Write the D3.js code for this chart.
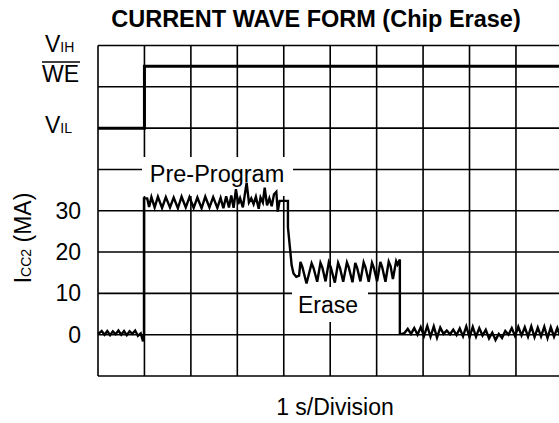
<!DOCTYPE html>
<html>
<head>
<meta charset="utf-8">
<script src="https://cdn.jsdelivr.net/npm/d3@7"></script>
<style>
  html, body { margin: 0; padding: 0; background: #fff; }
  svg { display: block; }
  text { font-family: "Liberation Sans", Arial, Helvetica, sans-serif; fill: #000; }
</style>
</head>
<body>
<svg id="chart" width="559" height="423"></svg>
<script>
// ---------------- DATA ----------------
const title = "CURRENT WAVE FORM (Chip Erase)";
const xAxisLabel = "1 s/Division";
const yTicks = [0, 10, 20, 30];
const gridTimes = [0, 1, 2, 3, 4, 5, 6, 7, 8, 9, 10];          // seconds
const gridRows = [-10, 0, 10, 20, 30, 40, 50, 60, 70];          // current-scale rows

// WE control signal (0 = VIL, 1 = VIH)
const weTimes  = [0, 1.0, 1.0, 10];
const weLevels = [0, 0, 1, 1];

// ICC2 current waveform (time in s, current in mA)
const currentTimes = [
  0.00, 0.02, 0.08, 0.14, 0.20, 0.26, 0.32, 0.38, 0.44, 0.50, 0.56, 0.62, 0.68, 0.74, 0.80, 0.86, 0.92, 0.97, 0.99,
  0.99, 1.06, 1.10, 1.15, 1.22, 1.29, 1.38, 1.46, 1.55, 1.63, 1.72, 1.80, 1.89, 1.97, 2.06, 2.14, 2.23, 2.31, 2.40,
  2.48, 2.57, 2.64, 2.70, 2.76, 2.82, 2.87, 2.92, 2.97, 3.02, 3.06, 3.12, 3.20, 3.25, 3.30, 3.35, 3.40, 3.46, 3.50,
  3.55, 3.59, 3.64, 3.69, 3.74, 3.79, 3.84, 3.87, 3.91, 4.09,
  4.09, 4.17, 4.21, 4.27, 4.33, 4.36, 4.40, 4.49, 4.60, 4.64, 4.72, 4.79, 4.83, 4.90, 4.97, 5.01, 5.10, 5.17, 5.21,
  5.28, 5.36, 5.40, 5.48, 5.54, 5.58, 5.65, 5.72, 5.76, 5.83, 5.90, 5.94, 6.01, 6.08, 6.12, 6.19, 6.26, 6.30, 6.35,
  6.42, 6.45, 6.50,
  6.50, 6.55, 6.60, 6.67, 6.74, 6.81, 6.88, 6.95, 7.02, 7.09, 7.16, 7.23, 7.30, 7.37, 7.44, 7.51, 7.58, 7.65, 7.72,
  7.79, 7.86, 7.93, 8.00, 8.07, 8.14, 8.21, 8.28, 8.35, 8.42, 8.49, 8.56, 8.63, 8.70, 8.77, 8.84, 8.91, 8.98, 9.05,
  9.12, 9.19, 9.26, 9.33, 9.40, 9.47, 9.54, 9.61, 9.68, 9.75, 9.82, 9.89, 9.96
];
const currentMA = [
  0.2, 0.3, 0.9, 0.0, 0.9, -0.1, 0.8, 0.1, 1.0, 0.0, 0.9, -0.1, 0.8, 0.2, 1.0, -0.3, 0.3, -1.6, 0.0,
  33.0, 33.0, 30.9, 33.3, 30.8, 33.4, 30.7, 33.3, 30.8, 33.2, 30.6, 33.4, 30.8, 33.3, 30.7, 33.2, 30.6, 33.4, 30.8,
  33.3, 30.7, 33.1, 30.6, 33.5, 30.8, 33.7, 30.7, 35.2, 31.6, 33.0, 30.8, 36.8, 32.0, 33.0, 31.6, 33.4, 30.5, 33.2,
  32.0, 35.6, 31.3, 33.0, 31.1, 34.0, 34.6, 29.8, 32.4, 32.4,
  26.0, 16.8, 14.8, 14.0, 14.3, 17.6, 16.4, 12.4, 17.3, 16.2, 12.8, 17.4, 16.3, 12.9, 17.5, 16.4, 12.6, 17.4, 16.2,
  12.8, 17.5, 16.3, 12.7, 17.4, 16.2, 12.9, 17.5, 16.3, 12.8, 17.4, 16.2, 12.9, 17.6, 16.3, 12.8, 17.7, 16.6, 13.5,
  17.8, 17.0, 18.2,
  0.2, 0.2, 0.4, 1.4, 0.2, 1.6, 0.0, 1.8, -0.3, 2.1, -0.5, 2.0, -0.7, 1.7, 0.2, 1.0, 0.1, 1.2, -0.1,
  1.5, -0.4, 2.0, -0.6, 1.9, -0.5, 1.6, -0.2, 1.2, -0.9, 0.5, -1.3, 0.2, -0.8, 0.9, 0.0, 1.6, -0.3, 1.9,
  -0.2, 1.8, -0.5, 2.0, -0.6, 1.7, -0.4, 1.9, -0.8, 1.8, -0.5, 1.6, -0.6
];

// ---------------- CHART ----------------
const svg = d3.select("#chart");
svg.append("rect").attr("width", 559).attr("height", 423).attr("fill", "#fff");

const x = d3.scaleLinear().domain([0, 10]).range([98, 562.4]);
const y = d3.scaleLinear().domain([-10, 70]).range([376, 45.5]);
const weY = d3.scaleLinear().domain([0, 1]).range([y(50), y(65)]);

const FONT = 23;

// grid
const grid = svg.append("g");
grid.selectAll("line.v").data(gridTimes).join("line")
  .attr("x1", d => x(d)).attr("x2", d => x(d))
  .attr("y1", y(70)).attr("y2", y(-10))
  .attr("stroke", "#000").attr("stroke-width", 1.6);
grid.selectAll("line.h").data(gridRows).join("line")
  .attr("x1", x(0)).attr("x2", x(10))
  .attr("y1", d => y(d)).attr("y2", d => y(d))
  .attr("stroke", "#000").attr("stroke-width", 1.6);

// y tick labels
const yAxis = d3.axisLeft(y).tickValues(yTicks).tickSize(0).tickPadding(17);
const ya = svg.append("g").attr("transform", `translate(${x(0)},0)`).call(yAxis);
ya.select(".domain").remove();
ya.selectAll("text").attr("font-size", FONT).attr("font-family", "'Liberation Sans', Arial, sans-serif").attr("fill", "#000");

// title
svg.append("text").attr("x", 316).attr("y", 27).attr("text-anchor", "middle")
  .attr("font-size", 23.5).attr("font-weight", "bold").text(title);

// x label
svg.append("text").attr("x", 335).attr("y", 415).attr("text-anchor", "middle")
  .attr("font-size", FONT).text(xAxisLabel);

// y label
const yl = svg.append("text").attr("transform", "translate(31,238) rotate(-90)")
  .attr("text-anchor", "middle").attr("font-size", FONT);
yl.append("tspan").text("I");
yl.append("tspan").attr("font-size", 14).text("CC2");
yl.append("tspan").text(" (MA)");

// left labels for WE
const vih = svg.append("text").attr("x", 45).attr("y", 52).attr("font-size", FONT);
vih.append("tspan").text("V");
vih.append("tspan").attr("font-size", 14).text("IH");
const vil = svg.append("text").attr("x", 45).attr("y", 133).attr("font-size", FONT);
vil.append("tspan").text("V");
vil.append("tspan").attr("font-size", 14).text("IL");
svg.append("text").attr("x", 42).attr("y", 82).attr("font-size", FONT).text("WE");
svg.append("line").attr("x1", 42).attr("x2", 80).attr("y1", 62).attr("y2", 62)
  .attr("stroke", "#000").attr("stroke-width", 1.6);

// WE signal
const weData = weTimes.map((t, i) => [t, weLevels[i]]);
svg.append("path").datum(weData)
  .attr("d", d3.line().x(d => x(d[0])).y(d => weY(d[1])))
  .attr("fill", "none").attr("stroke", "#000").attr("stroke-width", 3);

// label backgrounds
svg.append("rect").attr("x", 142).attr("y", 157).attr("width", 151).attr("height", 39).attr("fill", "#fff");
svg.append("rect").attr("x", 292).attr("y", 287).attr("width", 76).attr("height", 35).attr("fill", "#fff");
svg.append("text").attr("x", 217).attr("y", 182).attr("text-anchor", "middle")
  .attr("font-size", 23.5).text("Pre-Program");
svg.append("text").attr("x", 328).attr("y", 313).attr("text-anchor", "middle")
  .attr("font-size", FONT).text("Erase");

// current waveform
const curData = currentTimes.map((t, i) => [t, currentMA[i]]);
svg.append("path").datum(curData)
  .attr("d", d3.line().x(d => x(d[0])).y(d => y(d[1])))
  .attr("fill", "none").attr("stroke", "#000").attr("stroke-width", 2.4)
  .attr("stroke-linejoin", "miter");
</script>
</body>
</html>
